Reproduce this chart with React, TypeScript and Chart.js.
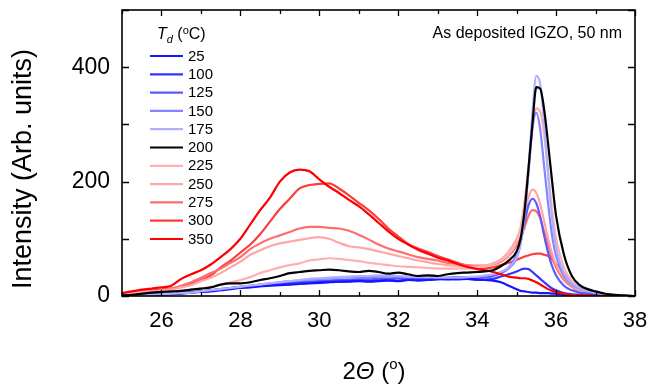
import React, { useEffect, useRef } from 'react';
import { Chart, registerables } from 'chart.js';

Chart.register(...registerables);

// 2Θ positions (degrees)
const twoTheta = [
  25, 25.25, 25.5, 25.75, 26, 26.25, 26.5, 26.75, 27, 27.25, 27.5, 27.75, 28, 28.25, 28.5, 28.75,
  29, 29.25, 29.5, 29.75, 30, 30.25, 30.5, 30.75, 31, 31.25, 31.5, 31.75, 32, 32.25, 32.5, 32.75,
  33, 33.25, 33.5, 33.75, 34,
  34.2, 34.4, 34.6, 34.8, 35.0, 35.1, 35.2, 35.3, 35.4, 35.5, 35.6, 35.7, 35.8, 35.9,
  36.0, 36.2, 36.4, 36.6, 36.8, 37.0, 37.25, 37.5, 37.75, 38,
];

const temps = ['25', '100', '125', '150', '175', '200', '225', '250', '275', '300', '350'];
const colors = ['#1414ff', '#3434ff', '#5a5aff', '#8585ff', '#b0b0ff', '#000000', '#ffb0b0', '#ffa6a6', '#ff6e6e', '#ff3c3c', '#ff0000'];
const drawOrder = [3, 3, 3, 3, 2, 0, 3, 3, 3, 3, 1];

const i25 = [0, 1, 1, 2, 2, 3, 4, 6, 7, 8, 10, 12, 14, 15, 17, 18, 19, 20, 21, 22, 23, 24, 25, 25, 26, 25, 26, 27, 26, 28, 27, 28, 30, 29, 30, 30, 29,
  28, 27, 24, 18, 12, 9, 8, 7, 6, 6, 5, 5, 5, 4, 4, 2, 1, 1, 0, 0, 0, 0, 0, 0];
const i100 = [1, 1, 2, 2, 3, 4, 5, 6, 8, 9, 11, 13, 15, 16, 17, 19, 20, 21, 22, 23, 24, 25, 25, 26, 27, 26, 27, 28, 27, 28, 29, 28, 29, 30, 29, 30, 28,
  28, 30, 34, 38, 43, 46, 48, 47, 42, 36, 30, 24, 18, 13, 10, 5, 3, 2, 1, 1, 0, 0, 0, 0];
const i125 = [1, 1, 2, 3, 3, 4, 5, 7, 8, 10, 12, 14, 16, 17, 19, 20, 22, 23, 24, 25, 26, 27, 28, 28, 29, 29, 30, 30, 31, 30, 31, 32, 31, 32, 33, 32, 32,
  32, 35, 40, 50, 72, 95, 128, 158, 170, 162, 138, 105, 75, 52, 36, 18, 10, 6, 4, 2, 1, 0, 0, 0];
const i150 = [0, 1, 2, 2, 3, 4, 5, 6, 8, 10, 12, 14, 16, 18, 20, 22, 24, 26, 27, 29, 30, 31, 32, 32, 33, 33, 34, 34, 34, 33, 33, 32, 32, 31, 31, 32, 33,
  34, 36, 40, 48, 66, 92, 140, 215, 295, 320, 290, 225, 160, 105, 70, 35, 20, 13, 8, 5, 3, 1, 0, 0];
const i175 = [0, 1, 2, 2, 3, 4, 5, 6, 8, 10, 12, 14, 16, 18, 20, 22, 24, 26, 28, 30, 31, 32, 33, 34, 35, 35, 36, 36, 35, 34, 33, 33, 32, 32, 32, 33, 34,
  36, 38, 42, 50, 68, 90, 140, 220, 320, 385, 370, 300, 210, 135, 85, 40, 22, 14, 9, 6, 3, 1, 0, 0];
const i200 = [1, 2, 4, 6, 7, 8, 9, 11, 13, 15, 20, 22, 22, 24, 28, 31, 35, 40, 42, 44, 45, 46, 45, 43, 42, 44, 42, 39, 41, 38, 35, 36, 35, 38, 40, 41, 42,
  43, 45, 52, 62, 78, 100, 148, 222, 300, 365, 362, 325, 265, 200, 140, 72, 35, 19, 12, 8, 4, 2, 1, 0];
const i225 = [3, 4, 5, 6, 7, 8, 9, 11, 13, 16, 20, 24, 28, 33, 40, 45, 50, 54, 57, 62, 64, 66, 65, 63, 61, 58, 56, 54, 52, 51, 50, 49, 48, 48, 48, 48, 50,
  52, 56, 62, 72, 95, 120, 165, 225, 290, 328, 322, 280, 215, 150, 100, 50, 26, 15, 9, 6, 3, 1, 0, 0];
const i250 = [4, 5, 7, 8, 9, 11, 15, 19, 26, 32, 40, 50, 60, 72, 80, 87, 92, 95, 98, 101, 103, 100, 93, 87, 85, 82, 78, 74, 70, 66, 62, 59, 56, 54, 52, 51, 51,
  53, 57, 64, 78, 100, 118, 145, 172, 186, 180, 160, 130, 100, 74, 55, 32, 18, 10, 6, 3, 2, 1, 0, 0];
const i275 = [4, 6, 8, 9, 10, 13, 18, 24, 32, 40, 48, 58, 68, 82, 92, 100, 106, 112, 118, 121, 121, 119, 118, 114, 107, 99, 90, 83, 78, 73, 68, 65, 62, 58, 56, 54, 53,
  53, 55, 60, 70, 88, 102, 120, 140, 150, 148, 135, 112, 88, 66, 50, 28, 16, 9, 5, 3, 1, 0, 0, 0];
const i300 = [4, 6, 8, 10, 11, 13, 17, 22, 28, 36, 50, 62, 76, 90, 108, 130, 152, 170, 188, 194, 196, 197, 188, 176, 163, 150, 135, 118, 104, 91, 83, 77, 70, 64, 58, 53, 50,
  48, 50, 54, 58, 63, 66, 69, 71, 73, 74, 74, 72, 70, 64, 56, 40, 24, 12, 6, 3, 1, 0, 0, 0];
const i350 = [5, 8, 11, 13, 15, 18, 30, 38, 45, 55, 68, 82, 100, 125, 150, 172, 200, 216, 221, 218, 204, 191, 180, 168, 157, 143, 128, 113, 100, 90, 81, 74, 67, 62, 56, 51, 47,
  45, 42, 38, 34, 32, 31, 31, 30, 27, 24, 20, 16, 12, 9, 7, 4, 2, 1, 1, 0, 0, 0, 0, 0];

const seriesValues = [i25, i100, i125, i150, i175, i200, i225, i250, i275, i300, i350];

const xLabelTicks = [26, 28, 30, 32, 34, 36, 38];
const xAllTicks = [25, 26, 27, 28, 29, 30, 31, 32, 33, 34, 35, 36, 37, 38];
const yLabelTicks = [0, 200, 400];
const yAllTicks = [0, 100, 200, 300, 400, 500];

const annotation = 'As deposited IGZO, 50 nm';
const yTitle = 'Intensity (Arb. units)';

const FONT = "'Liberation Sans', Arial, Helvetica, sans-serif";

const decoPlugin = {
  id: 'deco',
  afterDatasetsDraw(chart: any) {
    const { ctx, chartArea: a, scales } = chart;
    const xs = scales.x;
    const ys = scales.y;
    ctx.save();
    // ticks (inward, all four sides)
    ctx.strokeStyle = '#000';
    ctx.lineWidth = 1.3;
    ctx.beginPath();
    for (const v of xAllTicks) {
      const px = Math.round(xs.getPixelForValue(v)) + 0.5;
      const len = v % 2 === 0 ? 6 : 4;
      ctx.moveTo(px, a.bottom);
      ctx.lineTo(px, a.bottom - len);
      ctx.moveTo(px, a.top);
      ctx.lineTo(px, a.top + len);
    }
    for (const v of yAllTicks) {
      const py = Math.round(ys.getPixelForValue(v)) + 0.5;
      ctx.moveTo(a.left, py);
      ctx.lineTo(a.left + 7, py);
      ctx.moveTo(a.right, py);
      ctx.lineTo(a.right - 7, py);
    }
    ctx.stroke();
    // frame
    ctx.lineWidth = 1.6;
    ctx.strokeRect(a.left, a.top, a.right - a.left, a.bottom - a.top);

    // legend
    ctx.fillStyle = '#000';
    ctx.textBaseline = 'middle';
    ctx.textAlign = 'left';
    // title T_d (oC)
    let tx = 157;
    const ty = 35;
    ctx.font = `italic 16px ${FONT}`;
    ctx.fillText('T', tx, ty);
    tx += ctx.measureText('T').width;
    ctx.font = `italic 11px ${FONT}`;
    ctx.fillText('d', tx, ty + 5);
    tx += ctx.measureText('d').width;
    ctx.font = `16px ${FONT}`;
    ctx.fillText(' (', tx, ty);
    tx += ctx.measureText(' (').width;
    ctx.font = `11px ${FONT}`;
    ctx.fillText('o', tx, ty - 4);
    tx += ctx.measureText('o').width;
    ctx.font = `16px ${FONT}`;
    ctx.fillText('C)', tx, ty);

    ctx.font = `15px ${FONT}`;
    temps.forEach((t, i) => {
      const y = 56 + i * 18.3;
      ctx.strokeStyle = colors[i];
      ctx.lineWidth = 2.2;
      ctx.beginPath();
      ctx.moveTo(150, y);
      ctx.lineTo(183, y);
      ctx.stroke();
      ctx.fillText(t, 188, y + 0.5);
    });

    // annotation
    ctx.textAlign = 'right';
    ctx.font = `16px ${FONT}`;
    ctx.fillText(annotation, 622, 34);

    // y title
    ctx.save();
    ctx.translate(24, 169);
    ctx.rotate(-Math.PI / 2);
    ctx.textAlign = 'center';
    ctx.font = `27px ${FONT}`;
    ctx.fillText(yTitle, 0, 0);
    ctx.restore();

    // x title: 2Θ (°)
    const parts = [
      { t: '2', f: `24px ${FONT}`, dy: 0 },
      { t: 'Θ', f: `italic 24px ${FONT}`, dy: 0 },
      { t: ' (', f: `24px ${FONT}`, dy: 0 },
      { t: 'o', f: `15px ${FONT}`, dy: -7 },
      { t: ')', f: `24px ${FONT}`, dy: 0 },
    ];
    let total = 0;
    for (const p of parts) {
      ctx.font = p.f;
      total += ctx.measureText(p.t).width;
    }
    ctx.textAlign = 'left';
    let xx = 374 - total / 2;
    for (const p of parts) {
      ctx.font = p.f;
      ctx.fillText(p.t, xx, 372 + p.dy);
      xx += ctx.measureText(p.t).width;
    }
    ctx.restore();
  },
};

export default function App() {
  const ref = useRef<HTMLCanvasElement | null>(null);
  useEffect(() => {
    if (!ref.current) return;
    const datasets = temps.map((t, i) => ({
      label: t,
      data: twoTheta.map((x, j) => ({ x, y: seriesValues[i][j] })),
      borderColor: colors[i],
      backgroundColor: colors[i],
      borderWidth: 2.2,
      pointRadius: 0,
      fill: false,
      cubicInterpolationMode: 'monotone' as const,
      order: drawOrder[i],
    }));
    const chart = new Chart(ref.current, {
      type: 'line',
      data: { datasets },
      plugins: [decoPlugin],
      options: {
        responsive: false,
        animation: false,
        layout: { padding: { left: 0, right: 15, top: 10, bottom: 0 } },
        plugins: { legend: { display: false }, tooltip: { enabled: false } },
        scales: {
          x: {
            type: 'linear',
            min: 25,
            max: 38,
            grid: { display: false, drawTicks: false },
            border: { display: false },
            afterBuildTicks: (s: any) => {
              s.ticks = xLabelTicks.map((v) => ({ value: v }));
            },
            afterFit: (s: any) => {
              s.height = 89;
              s.paddingLeft = 0;
              s.paddingRight = 0;
            },
            ticks: {
              color: '#000',
              padding: 12,
              maxRotation: 0,
              font: { family: FONT, size: 22 },
              callback: (v: any) => String(v),
            },
          },
          y: {
            type: 'linear',
            min: 0,
            max: 500,
            grid: { display: false, drawTicks: false },
            border: { display: false },
            afterBuildTicks: (s: any) => {
              s.ticks = yLabelTicks.map((v) => ({ value: v }));
            },
            afterFit: (s: any) => {
              s.width = 122;
              s.paddingTop = 0;
              s.paddingBottom = 0;
            },
            ticks: {
              color: '#000',
              padding: 12,
              font: { family: FONT, size: 23 },
              callback: (v: any) => String(v),
            },
          },
        },
      },
    });
    return () => chart.destroy();
  }, []);
  return (
    <div style={{ position: 'fixed', left: 0, top: 0, width: 650, height: 385, background: '#fff' }}>
      <canvas ref={ref} width={650} height={385} style={{ display: 'block' }} />
    </div>
  );
}
